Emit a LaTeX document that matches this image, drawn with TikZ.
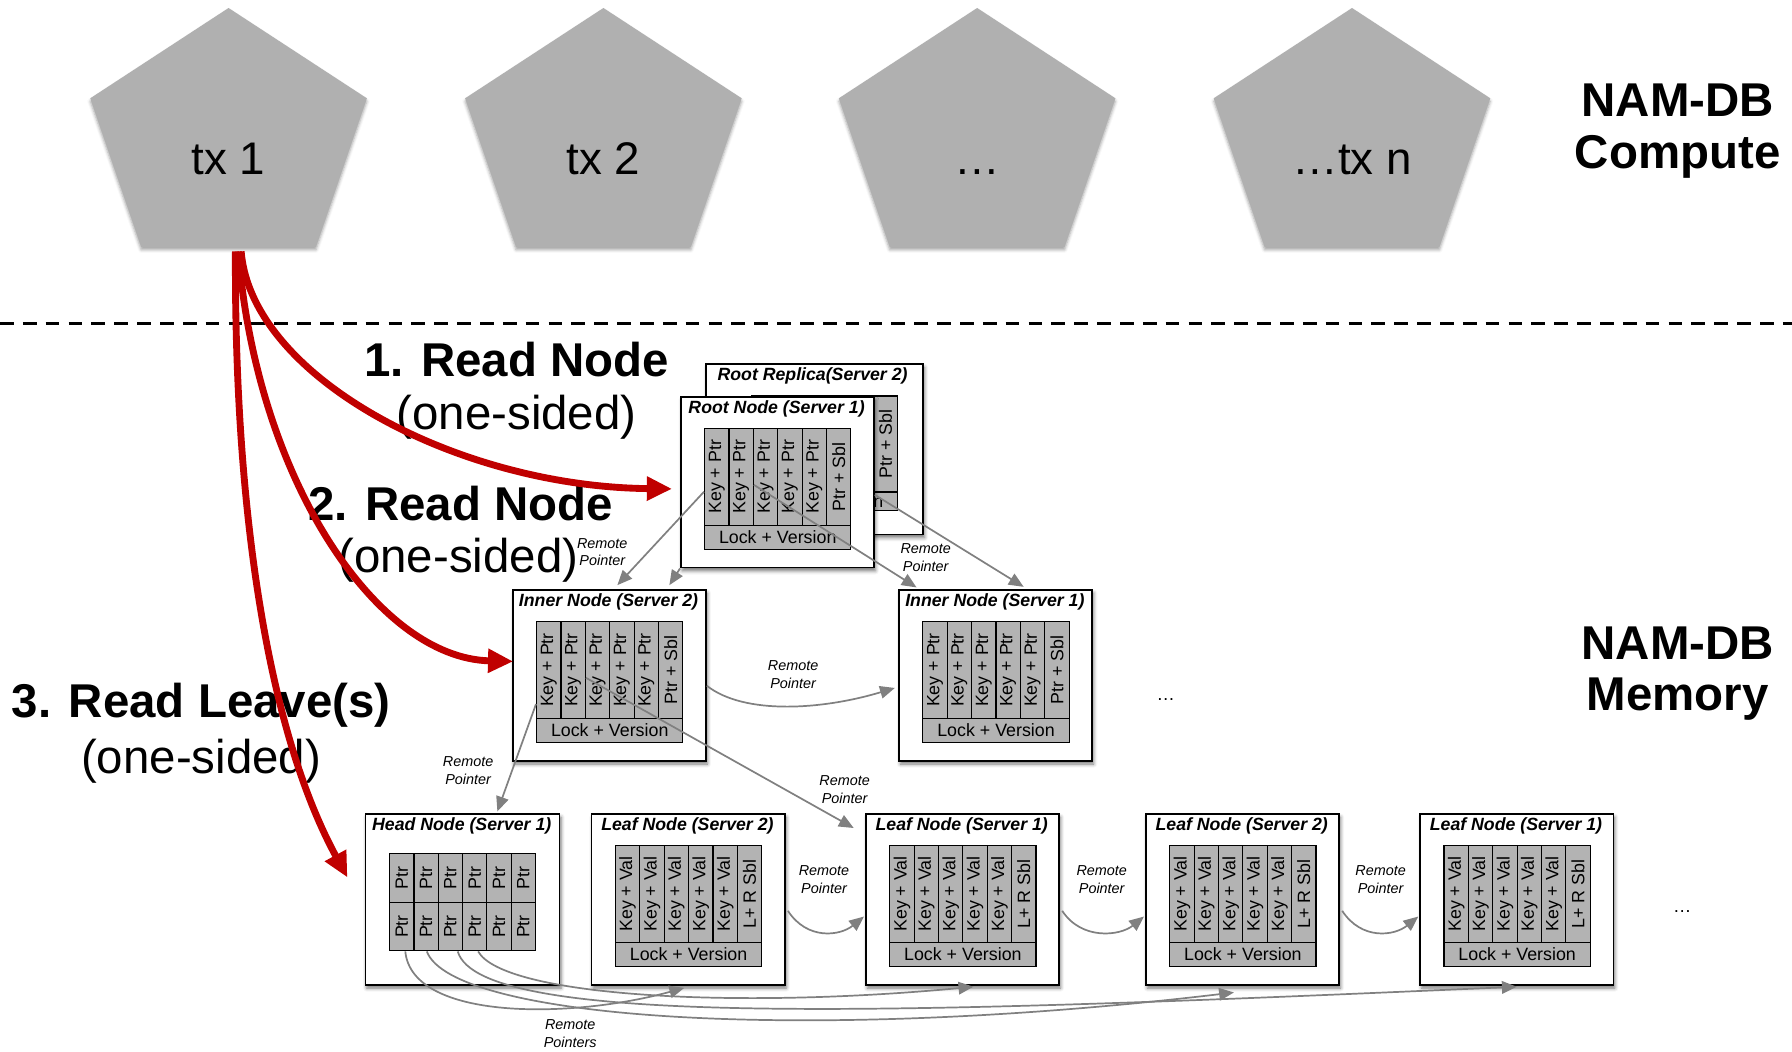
\documentclass[tikz,border=0pt]{standalone}
\usepackage{fontspec}
\usepackage{graphicx}
\setmainfont{Liberation Sans}
\usetikzlibrary{arrows.meta,shadows.blur}

\definecolor{pentgray}{RGB}{176,176,176}
\definecolor{cellgray}{RGB}{179,179,179}
\definecolor{ptrgray}{RGB}{128,128,128}
\definecolor{readred}{RGB}{192,0,0}

\tikzset{
  softshadow/.style={blur shadow={shadow xshift=0.6pt, shadow yshift=-1.4pt, shadow blur radius=1.6pt, shadow opacity=55}},
  membox/.style={draw=black, line width=0.7pt, fill=white, anchor=north west, inner sep=0pt,
    minimum width=84.5pt, minimum height=74.75pt, softshadow},
  boxtitle/.style={anchor=base, inner sep=0pt, font=\fontsize{7.75}{9}\selectfont\bfseries\itshape},
  cell/.style={draw=black, line width=0.5pt, fill=cellgray, anchor=north west, inner sep=0pt,
    minimum width=10.667pt, minimum height=42.25pt, font=\fontsize{7.8}{9}\selectfont},
  lockrow/.style={cell, minimum width=64pt, minimum height=10.75pt},
  ptr/.style={draw=ptrgray, line width=0.75pt, -{Triangle[length=6.5pt,width=5.5pt]}},
  readarrow/.style={draw=readred, line width=3pt, -{Triangle[length=11pt,width=10pt]}},
  bigbold/.style={inner sep=0pt, font=\fontsize{20.75}{25}\selectfont\bfseries},
  bigplain/.style={inner sep=0pt, font=\fontsize{20.75}{25}\selectfont},
  remote/.style={inner sep=0pt, align=center, font=\fontsize{6.3}{7.75}\selectfont\itshape},
  txlabel/.style={anchor=base, inner sep=0pt, font=\fontsize{20}{24}\selectfont},
  dots/.style={anchor=base, inner sep=0pt, font=\fontsize{8}{10}\selectfont},
  tierline/.style={line width=1pt, dash pattern=on 6pt off 4pt},
}

% transaction pentagon: name, centre x, label
\newcommand\txpent[3]{%
  \fill[pentgray, blur shadow={shadow xshift=0pt, shadow yshift=-1.3pt, shadow blur radius=1.3pt, shadow opacity=35}]
    (#2,7) -- ({#2+121},86) -- ({#2+76.5},216) -- ({#2-76.5},216) -- ({#2-121},86) -- cycle;
  \node[txlabel] (#1) at (#2,152.5) {#3};
}

% index node: name, x, y, title, entry text, last entry text
\newcommand\gridbox[6]{%
  \node[membox] (#1) at (#2,#3) {};
  \node[boxtitle] (#1t) at ({#2+84.5},{#3+15.5}) {#4};
  \foreach \i in {1,...,5}
    \node[cell] (#1c\i) at ({#2+21+(\i-1)*21.333},{#3+28}) {\rotatebox{90}{#5}};
  \node[cell] (#1c6) at ({#2+21+5*21.333},{#3+28}) {\rotatebox{90}{#6}};
  \node[lockrow] (#1lock) at ({#2+21},{#3+112.5}) {Lock + Version};
}

\begin{document}
\begin{tikzpicture}[x=0.5pt, y=-0.5pt]
\useasboundingbox (0,0) rectangle (1568,920);

% compute tier
\txpent{tx1}{200}{tx 1}
\txpent{tx2}{528}{tx 2}
\txpent{txdots}{855}{…}
\txpent{txn}{1183}{…tx n}

\node[bigbold] (compA) at (1468,88) {NAM-DB};
\node[bigbold] (compB) at (1468,137) {Compute};
\node[bigbold] (memA) at (1468,563) {NAM-DB};
\node[bigbold] (memB) at (1468,612) {Memory};

\draw[tierline] (0,283) -- (1568,283);

% root replica (behind the root)
\node[membox, minimum width=95pt, minimum height=74.5pt] (replica) at (617,318) {};
\node[boxtitle] (replicat) at (711,333) {Root Replica(Server 2)};
\foreach \i in {1,...,5}
  \node[cell, minimum height=42pt] (replicac\i) at ({657+(\i-1)*21.333},346) {\rotatebox{90}{Key + Ptr}};
\node[cell, minimum height=42pt] (replicac6) at ({657+5*21.333},346) {\rotatebox{90}{Ptr + Sbl}};
\node[lockrow, minimum height=8pt] (replicalock) at (657,430) {Lock + Version};

% tree nodes
\gridbox{root}{595}{346.5}{Root Node (Server 1)}{Key + Ptr}{Ptr + Sbl}
\gridbox{inner2}{448}{515.5}{Inner Node (Server 2)}{Key + Ptr}{Ptr + Sbl}
\gridbox{inner1}{786}{515.5}{Inner Node (Server 1)}{Key + Ptr}{Ptr + Sbl}

% head node
\node[membox, minimum width=85pt] (head) at (319,711.5) {};
\node[boxtitle] (headt) at (404,727) {Head Node (Server 1)};
\foreach \i in {1,...,6} {
  \node[cell, minimum width=10.625pt, minimum height=21.25pt] (headu\i) at ({340.5+(\i-1)*21.25},746.5) {\rotatebox{90}{Ptr}};
  \node[cell, minimum width=10.625pt, minimum height=21.25pt] (headd\i) at ({340.5+(\i-1)*21.25},789) {\rotatebox{90}{Ptr}};
}

% leaves
\gridbox{leafa}{517}{711.5}{Leaf Node (Server 2)}{Key + Val}{L+ R Sbl}
\gridbox{leafb}{757}{711.5}{Leaf Node (Server 1)}{Key + Val}{L+ R Sbl}
\gridbox{leafc}{1002}{711.5}{Leaf Node (Server 2)}{Key + Val}{L+ R Sbl}
\gridbox{leafd}{1242}{711.5}{Leaf Node (Server 1)}{Key + Val}{L+ R Sbl}

\node[dots] (moreinner) at (1020,613) {…};
\node[dots] (moreleaf) at (1472,798) {…};

% pointer labels
\node[remote] (rpA) at (527,483) {Remote\\Pointer};
\node[remote] (rpB) at (810,488) {Remote\\Pointer};
\node[remote] (rpC) at (694,590) {Remote\\Pointer};
\node[remote] (rpD) at (409.6,674) {Remote\\Pointer};
\node[remote] (rpE) at (739,691) {Remote\\Pointer};
\node[remote] (rpF) at (721,769.5) {Remote\\Pointer};
\node[remote] (rpG) at (964,769.5) {Remote\\Pointer};
\node[remote] (rpH) at (1208,769.5) {Remote\\Pointer};
\node[remote] (rpI) at (499,904.5) {Remote\\Pointers};

% remote pointers between tree nodes
\draw[ptr] ([yshift=-6.5pt]rootc1.west) -- ([xshift=3.5pt,yshift=1.75pt]inner2.north);
\draw[ptr] (root.south west) -- ([xshift=26.25pt,yshift=1.75pt]inner2.north);
\draw[ptr] ([yshift=-3.5pt]rootc2.east) -- ([xshift=8pt,yshift=0.75pt]inner1.north west);
\draw[ptr] ([yshift=-5.5pt]root.east) -- ([xshift=12.25pt,yshift=1pt]inner1.north);
\draw[ptr] ([yshift=-4.5pt]inner2.east) .. controls +(33,26) and +(-63,19) .. ([xshift=-1.5pt,yshift=-5.5pt]inner1.west);
\draw[ptr] ([yshift=-3.4pt]inner2c2.east) -- ([xshift=-5pt,yshift=-6.5pt]leafb.north west);
\draw[ptr] ([yshift=-14.9pt]inner2c1.west) -- ([xshift=15.25pt,yshift=0.75pt]head.north);

% sibling chain of the leaves
\draw[ptr] ([xshift=1pt,yshift=-5pt]leafa.east) .. controls +(17,26) and +(-21,17) .. ([xshift=-0.5pt,yshift=-7.5pt]leafb.west);
\draw[ptr] ([xshift=1pt,yshift=-5pt]leafb.east) .. controls +(17,26) and +(-21,17) .. ([xshift=-0.5pt,yshift=-7.5pt]leafc.west);
\draw[ptr] ([xshift=1pt,yshift=-5pt]leafc.east) .. controls +(17,26) and +(-21,17) .. ([xshift=-0.5pt,yshift=-7.5pt]leafd.west);

% head node pointers to the leaves
\draw[ptr] ([xshift=1.5pt]headd1.south) .. controls +(6,61) and +(-98,27) .. ([xshift=-1.75pt,yshift=-1pt]leafa.south);
\draw[ptr] ([xshift=0.3pt]headd2.south) .. controls +(22,59) and +(-379,45) .. ([xshift=-3.75pt,yshift=-3pt]leafc.south);
\draw[ptr] ([xshift=3.2pt]headd3.south) .. controls +(20,69) and +(-526,23) .. ([yshift=-0.5pt]leafd.south);
\draw[ptr] ([xshift=1.5pt]headd4.south) .. controls +(22,39) and +(-211,20) .. ([xshift=4.75pt,yshift=-0.5pt]leafb.south);

% read steps
\node[bigbold] (readA) at (452,315) {1. Read Node};
\node[bigplain] (readAs) at (452,365) {(one-sided)};
\node[bigbold] (readB) at (403,441) {2. Read Node};
\node[bigplain] (readBs) at (401,490) {(one-sided)};
\node[bigbold] (readC) at (176,617) {3. Read Leave(s)};
\node[bigplain] (readCs) at (176,666) {(one-sided)};

\coordinate (tx1foot) at (208.5,220);
\draw[readarrow] ([xshift=1.25pt]tx1foot) .. controls +(9,110) and +(-188,-2) .. ([xshift=-3.5pt,yshift=-2.9pt]root.west);
\draw[readarrow] (tx1foot) .. controls +(16,200) and +(-119,-3) .. ([xshift=0.5pt,yshift=6.1pt]inner2.west);
\draw[readarrow] ([xshift=-1.25pt]tx1foot) .. controls +(-1,230) and +(-69,-127) .. ([xshift=-7.5pt,yshift=9.6pt]head.west);
\end{tikzpicture}
\end{document}
